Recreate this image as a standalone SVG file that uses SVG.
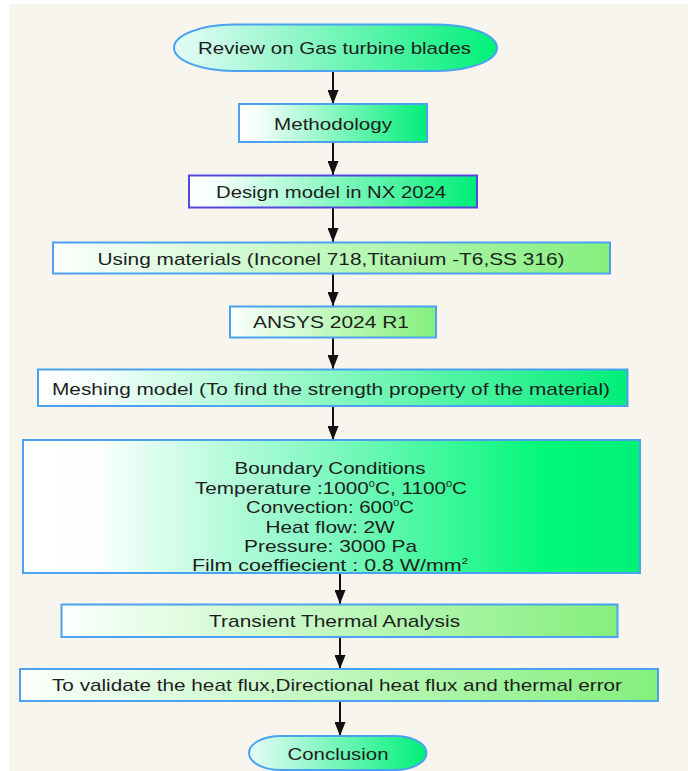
<svg xmlns="http://www.w3.org/2000/svg" width="688" height="771" viewBox="0 0 688 771">
<defs>
<linearGradient id="gOval" x1="0" y1="0" x2="1" y2="0"><stop offset="0" stop-color="#e6fbf8"/><stop offset="1" stop-color="#00f078"/></linearGradient>
<linearGradient id="gDeep" x1="0" y1="0" x2="1" y2="0"><stop offset="0" stop-color="#ffffff"/><stop offset="0.1" stop-color="#f4fffb"/><stop offset="1" stop-color="#00ee78"/></linearGradient>
<linearGradient id="gLight" x1="0" y1="0" x2="1" y2="0"><stop offset="0" stop-color="#ffffff"/><stop offset="0.05" stop-color="#f4fff6"/><stop offset="1" stop-color="#84ef7c"/></linearGradient>
<linearGradient id="gBig" x1="0" y1="0" x2="1" y2="0"><stop offset="0" stop-color="#ffffff"/><stop offset="0.12" stop-color="#fbfffd"/><stop offset="0.5" stop-color="#7ff8c0"/><stop offset="0.85" stop-color="#00f878"/><stop offset="1" stop-color="#00f078"/></linearGradient>
<marker id="arr" viewBox="0 0 14 11" refX="14" refY="5.5" markerWidth="14" markerHeight="11" markerUnits="userSpaceOnUse" orient="auto"><path d="M0,0 L14,5.5 L0,11 Z" fill="#111"/></marker>
</defs>
<style>
.bg{fill:#f8f4ee}
.box{stroke:#4aa2f0;stroke-width:2}
.dark{stroke:#5648dc;stroke-width:2}
.t{font-family:"Liberation Sans",Arial,sans-serif;font-size:17px;fill:#1e1e1e;text-anchor:middle}
.sup{font-size:9px}
.edge{stroke:#111;stroke-width:2;fill:none;marker-end:url(#arr)}
</style>
<rect class="bg" x="9" y="4" width="679" height="767"/>

<g id="connectors">
<line class="edge" x1="333" y1="71" x2="333" y2="104"/>
<line class="edge" x1="333" y1="142" x2="333" y2="175"/>
<line class="edge" x1="333" y1="208" x2="333" y2="242"/>
<line class="edge" x1="333" y1="274" x2="333" y2="306"/>
<line class="edge" x1="333" y1="338" x2="333" y2="369"/>
<line class="edge" x1="333" y1="406" x2="333" y2="440"/>
<line class="edge" x1="340" y1="574" x2="340" y2="604"/>
<line class="edge" x1="340" y1="637" x2="340" y2="669"/>
<line class="edge" x1="340" y1="701" x2="340" y2="736"/>
</g>

<g id="review">
<rect class="box" x="174" y="24.5" width="323" height="46.5" rx="60" ry="23.25" fill="url(#gOval)"/>
<text class="t" x="334.5" y="53.5" textLength="273" lengthAdjust="spacingAndGlyphs">Review on Gas turbine blades</text>
</g>

<g id="methodology">
<rect class="box" x="239" y="104" width="188" height="38" fill="url(#gDeep)"/>
<text class="t" x="333" y="129.5" textLength="118" lengthAdjust="spacingAndGlyphs">Methodology</text>
</g>

<g id="design">
<rect class="dark" x="189" y="175.5" width="288" height="32" fill="url(#gDeep)"/>
<text class="t" x="331" y="197.9" textLength="230" lengthAdjust="spacingAndGlyphs">Design model in NX 2024</text>
</g>

<g id="materials">
<rect class="box" x="53" y="242.5" width="557" height="31" fill="url(#gLight)"/>
<text class="t" x="331" y="264.5" textLength="467" lengthAdjust="spacingAndGlyphs">Using materials (Inconel 718,Titanium -T6,SS 316)</text>
</g>

<g id="ansys">
<rect class="box" x="230" y="306.5" width="206" height="31" fill="url(#gLight)"/>
<text class="t" x="331" y="327.9" textLength="156" lengthAdjust="spacingAndGlyphs">ANSYS 2024 R1</text>
</g>

<g id="meshing">
<rect class="box" x="38" y="369.5" width="589.5" height="36.5" fill="url(#gDeep)"/>
<text class="t" x="331" y="394.5" textLength="558" lengthAdjust="spacingAndGlyphs">Meshing model (To find the strength property of the material)</text>
</g>

<g id="boundary">
<rect class="box" x="23" y="440" width="617" height="133" fill="url(#gBig)"/>
<text class="t" x="330" y="474.3" textLength="191" lengthAdjust="spacingAndGlyphs">Boundary Conditions</text>
<text class="t" x="331" y="494.3" textLength="272" lengthAdjust="spacingAndGlyphs">Temperature :1000<tspan class="sup" dy="-7">0</tspan><tspan dy="7">C, 1100</tspan><tspan class="sup" dy="-7">0</tspan><tspan dy="7">C</tspan></text>
<text class="t" x="330" y="513.3" textLength="168" lengthAdjust="spacingAndGlyphs">Convection: 600<tspan class="sup" dy="-7">0</tspan><tspan dy="7">C</tspan></text>
<text class="t" x="330" y="532.7" textLength="129" lengthAdjust="spacingAndGlyphs">Heat flow: 2W</text>
<text class="t" x="330.5" y="552" textLength="173" lengthAdjust="spacingAndGlyphs">Pressure: 3000 Pa</text>
<text class="t" x="330" y="570.5" textLength="276" lengthAdjust="spacingAndGlyphs">Film coeffiecient : 0.8 W/mm<tspan class="sup" dy="-7">2</tspan></text>
</g>

<g id="transient">
<rect class="box" x="61.5" y="604.5" width="556" height="32.5" fill="url(#gLight)"/>
<text class="t" x="334.6" y="626.9" textLength="251" lengthAdjust="spacingAndGlyphs">Transient Thermal Analysis</text>
</g>

<g id="validate">
<rect class="box" x="20" y="669" width="638" height="32" fill="url(#gLight)"/>
<text class="t" x="337" y="691.2" textLength="570" lengthAdjust="spacingAndGlyphs">To validate the heat flux,Directional heat flux and thermal error</text>
</g>

<g id="conclusion">
<rect class="box" x="249" y="736" width="177.5" height="34" rx="32" ry="17" fill="url(#gOval)"/>
<text class="t" x="338" y="759.5" textLength="101" lengthAdjust="spacingAndGlyphs">Conclusion</text>
</g>
</svg>
